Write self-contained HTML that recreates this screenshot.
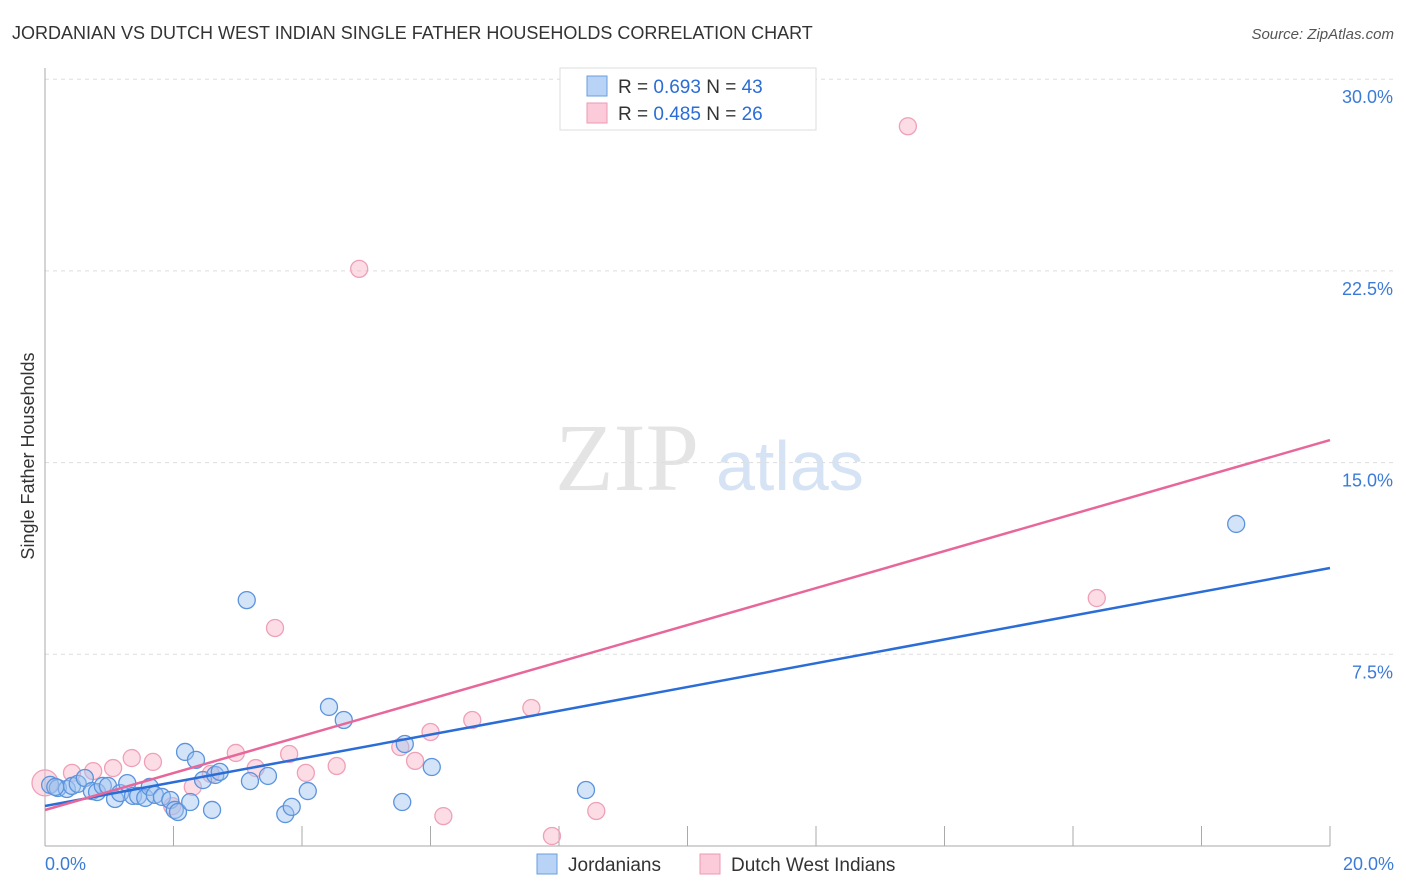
<!DOCTYPE html>
<html><head><meta charset="utf-8"><style>
body{margin:0;background:#fff;font-family:"Liberation Sans",sans-serif}
svg{display:block}
</style></head><body>
<svg id="chart" width="1406" height="892" viewBox="0 0 1406 892" xmlns="http://www.w3.org/2000/svg">
<text x="12" y="39" font-size="18" fill="#333">JORDANIAN VS DUTCH WEST INDIAN SINGLE FATHER HOUSEHOLDS CORRELATION CHART</text>
<text x="1394" y="39" font-size="15" fill="#555" font-style="italic" text-anchor="end">Source: ZipAtlas.com</text>
<text x="555" y="490" font-size="96" fill="#e4e4e4" font-family="Liberation Serif,serif">ZIP</text>
<text x="716" y="490" font-size="70" fill="#d6e3f5">atlas</text>
<text transform="translate(34,456) rotate(-90)" font-size="18" fill="#333" text-anchor="middle">Single Father Households</text>
<g id="grid"></g><g id="pts"></g><g id="lines"></g>
<g>
<rect x="560" y="68" width="256" height="62" fill="#fff" stroke="#ddd"/>
<rect x="587" y="76" width="20" height="20" fill="#b8d3f5" stroke="#6a9ee0"/>
<rect x="587" y="103" width="20" height="20" fill="#fbcbd9" stroke="#ec9ab5"/>
<text x="618" y="93" font-size="19" fill="#333">R = <tspan fill="#2a6dd6">0.693</tspan>   N = <tspan fill="#2a6dd6">43</tspan></text>
<text x="618" y="120" font-size="19" fill="#333">R = <tspan fill="#2a6dd6">0.485</tspan>   N = <tspan fill="#2a6dd6">26</tspan></text>
</g>
<g>
<rect x="537" y="854" width="20" height="20" fill="#b8d3f5" stroke="#6a9ee0"/>
<text x="568" y="871" font-size="19" fill="#333">Jordanians</text>
<rect x="700" y="854" width="20" height="20" fill="#fbcbd9" stroke="#ec9ab5"/>
<text x="731" y="871" font-size="19" fill="#333">Dutch West Indians</text>
</g>
</svg>
<script>
const blueX=[0.08,0.2,0.34,0.42,0.51,0.62,0.73,0.81,0.9,0.98,1.09,1.17,1.28,1.37,1.45,1.56,1.63,1.71,1.82,1.95,2.02,2.07,2.18,2.26,2.35,2.46,2.6,2.65,2.72,3.14,3.19,3.47,3.74,3.84,4.09,4.42,4.65,5.56,5.6,6.02,8.42,18.54,0.16];
const blueY=[2.39,2.27,2.23,2.35,2.43,2.66,2.15,2.11,2.35,2.35,1.84,2.07,2.46,1.96,1.96,1.88,2.31,2.0,1.92,1.8,1.41,1.33,3.68,1.72,3.37,2.58,1.41,2.78,2.9,9.62,2.54,2.74,1.25,1.53,2.15,5.44,4.93,1.72,3.99,3.09,2.19,12.6,2.31];
const pinkX=[0.0,0.42,0.75,1.06,1.35,1.68,1.98,2.3,2.58,2.97,3.28,3.58,3.8,4.06,4.54,4.89,5.53,5.76,6.0,6.2,6.65,7.57,7.89,8.58,13.43,16.37];
const pinkY=[2.47,2.86,2.93,3.05,3.44,3.29,1.56,2.31,2.82,3.64,3.05,8.53,3.6,2.86,3.13,22.58,3.87,3.33,4.46,1.17,4.93,5.4,0.39,1.37,28.16,9.7];
const trendBlue=[1.565,10.875];
const trendPink=[1.408,15.88];
const yTicks=[7.5,15,22.5,30];
const NS="http://www.w3.org/2000/svg";
const xS=v=>45+v/20*1285, yS=v=>846-v/7.5*191.7;
function mk(t,a,p){const e=document.createElementNS(NS,t);for(const k in a)e.setAttribute(k,a[k]);p.appendChild(e);return e;}
const g=document.getElementById('grid');
yTicks.forEach(t=>{const l=mk('line',{x1:45,x2:1394,y1:yS(t),y2:yS(t),stroke:'#ddd','stroke-dasharray':'4,4'},g);


const tx=mk('text',{x:1393,y:yS(t)+24,'font-size':18,fill:'#3b7bd8','text-anchor':'end'},g);tx.textContent=t.toFixed(1)+'%';

});
mk('line',{x1:45,x2:45,y1:68,y2:846,stroke:'#aaa'},g);
mk('line',{x1:45,x2:1330,y1:846,y2:846,stroke:'#aaa'},g);
for(let i=1;i<=10;i++){const x=45+i*128.5;mk('line',{x1:x,x2:x,y1:826,y2:846,stroke:'#aaa'},g);}
const x0=mk('text',{x:45,y:870,'font-size':18,fill:'#3b7bd8'},g);x0.textContent='0.0%';


const x1=mk('text',{x:1394,y:870,'font-size':18,fill:'#3b7bd8','text-anchor':'end'},g);x1.textContent='20.0%';


const p=document.getElementById('pts');
pinkX.forEach((v,i)=>{const c=mk('circle',{cx:xS(v),cy:yS(pinkY[i]),r:i==0?13:8.5,fill:'rgba(248,180,200,0.45)',stroke:'#efa0b8','stroke-width':1.3},p);

});
blueX.forEach((v,i)=>{const c=mk('circle',{cx:xS(v),cy:yS(blueY[i]),r:8.5,fill:'rgba(160,195,240,0.45)',stroke:'#5b93dd','stroke-width':1.3},p);

});
const L=document.getElementById('lines');
const lb=mk('line',{x1:xS(0),y1:yS(trendBlue[0]),x2:xS(20),y2:yS(trendBlue[1]),stroke:'#2a6dd6','stroke-width':2.5},L);


const lp=mk('line',{x1:xS(0),y1:yS(trendPink[0]),x2:xS(20),y2:yS(trendPink[1]),stroke:'#e8679a','stroke-width':2.5},L);


</script>
</body></html>
